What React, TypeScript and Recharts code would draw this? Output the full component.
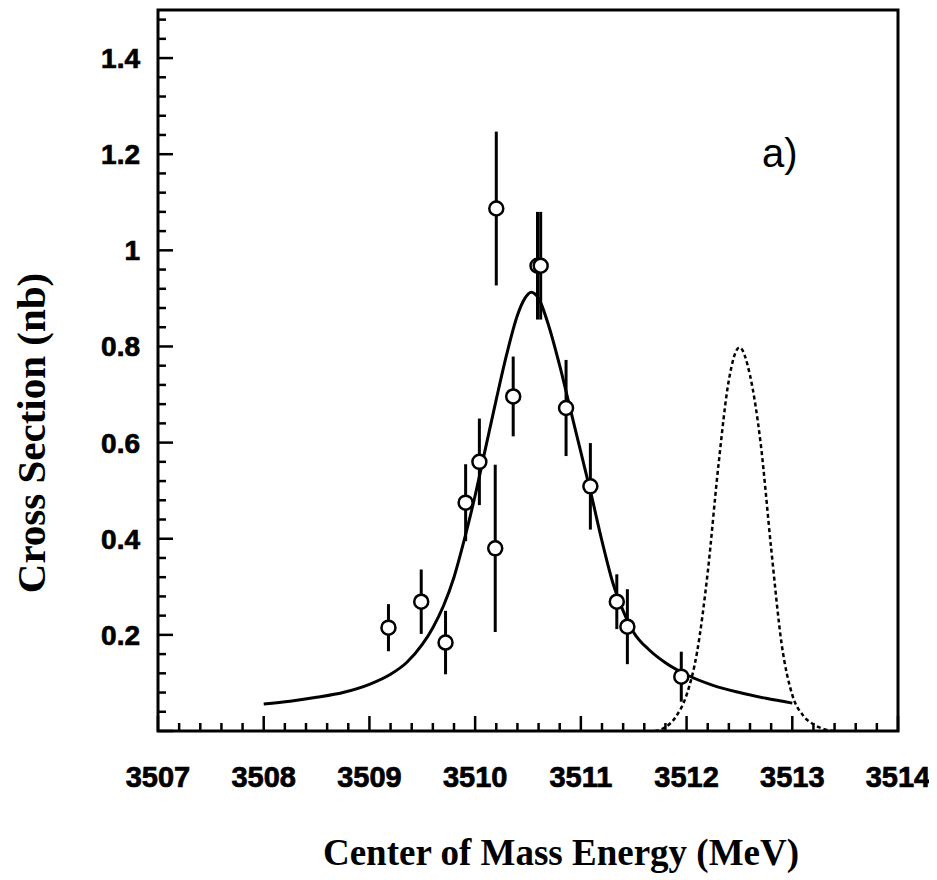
import React from 'react';
import {
  ComposedChart,
  Line,
  Scatter,
  ErrorBar,
  XAxis,
  YAxis,
  ReferenceArea,
} from 'recharts';

// measured points: energy (MeV), cross section (nb), error (nb)
const pointEnergy = [3509.18, 3509.49, 3509.72, 3509.91, 3510.04, 3510.19, 3510.2, 3510.36, 3510.59, 3510.62, 3510.86, 3511.09, 3511.34, 3511.44, 3511.95];
const pointSigma = [0.215, 0.269, 0.184, 0.475, 0.56, 0.38, 1.087, 0.696, 0.968, 0.968, 0.672, 0.509, 0.269, 0.217, 0.113];
const pointErr = [0.049, 0.067, 0.066, 0.08, 0.09, 0.174, 0.16, 0.083, 0.112, 0.112, 0.1, 0.09, 0.057, 0.078, 0.052];

// fitted curve (solid)
const fitEnergy = [3508, 3508.25, 3508.5, 3508.75, 3509, 3509.2, 3509.35, 3509.5, 3509.6, 3509.7, 3509.8, 3509.9, 3510, 3510.1, 3510.2, 3510.3, 3510.4, 3510.47, 3510.53, 3510.6, 3510.7, 3510.8, 3510.9, 3511, 3511.1, 3511.2, 3511.3, 3511.4, 3511.5, 3511.65, 3511.8, 3512, 3512.25, 3512.5, 3512.75, 3513];
const fitSigma = [0.056, 0.062, 0.07, 0.08, 0.097, 0.118, 0.142, 0.18, 0.215, 0.26, 0.32, 0.4, 0.49, 0.59, 0.69, 0.785, 0.865, 0.9, 0.913, 0.9, 0.84, 0.76, 0.67, 0.58, 0.49, 0.395, 0.31, 0.25, 0.205, 0.168, 0.142, 0.117, 0.095, 0.08, 0.068, 0.058];

// beam profile (dashed)
const beamEnergy = [3511.7, 3511.8, 3511.9, 3512, 3512.1, 3512.2, 3512.3, 3512.4, 3512.5, 3512.6, 3512.7, 3512.8, 3512.9, 3513, 3513.1, 3513.2, 3513.3, 3513.4];
const beamSigma = [0, 0.008, 0.03, 0.075, 0.165, 0.33, 0.55, 0.73, 0.798, 0.74, 0.6, 0.38, 0.18, 0.075, 0.033, 0.014, 0.004, 0];

const xMajor = [3507, 3508, 3509, 3510, 3511, 3512, 3513, 3514];
const yMajor = [0, 0.2, 0.4, 0.6, 0.8, 1, 1.2, 1.4];

// minor ticks: 5 per major interval
const xTicks: number[] = [];
for (let i = 0; i < xMajor.length - 1; i++) {
  for (let k = 0; k < 5; k++) xTicks.push(Math.round((xMajor[i] + k * 0.2) * 10) / 10);
}
xTicks.push(3514);
const yTicks: number[] = [];
for (let i = 0; i < yMajor.length; i++) {
  for (let k = 0; k < 5; k++) yTicks.push(Math.round((yMajor[i] + k * 0.04) * 100) / 100);
}

const points = pointEnergy.map((e, i) => ({ e, v: pointSigma[i], err: pointErr[i] }));
const fit = fitEnergy.map((e, i) => ({ e, v: fitSigma[i] }));
const beam = beamEnergy.map((e, i) => ({ e, v: beamSigma[i] }));

const sans = '"Liberation Sans", Arial, Helvetica, sans-serif';
const serif = '"Liberation Serif", "Times New Roman", Times, serif';

const XTick = (props: any) => {
  const { x, y, payload } = props;
  const v = payload.value;
  const major = xMajor.includes(v);
  return (
    <g>
      <line x1={x} x2={x} y1={y} y2={y - (major ? 15 : 8)} stroke="#000" strokeWidth={2.5} />
      {major && (
        <text x={x} y={y + 56} textAnchor="middle" fontFamily={sans} fontWeight="bold" fontSize={29} fill="#000" stroke="#000" strokeWidth={0.7}>
          {v}
        </text>
      )}
    </g>
  );
};

const YTick = (props: any) => {
  const { x, y, payload } = props;
  const v = payload.value;
  const major = yMajor.includes(v);
  return (
    <g>
      <line x1={x} x2={x + (major ? 15 : 8)} y1={y} y2={y} stroke="#000" strokeWidth={2.5} />
      {major && v > 0 && (
        <text x={x - 18} y={y + 10} textAnchor="end" fontFamily={sans} fontWeight="bold" fontSize={28} fill="#000" stroke="#000" strokeWidth={0.7}>
          {String(v)}
        </text>
      )}
    </g>
  );
};

const Circle = (p: any) => (
  <circle cx={p.cx} cy={p.cy} r={7} fill="#fff" stroke="#000" strokeWidth={2.5} />
);

export default function App() {
  return (
    <div style={{ position: 'relative', width: 929, height: 872 }}>
      <ComposedChart width={929} height={872} margin={{ top: 2, right: 39, left: 0, bottom: 0 }}>
        <XAxis
          dataKey="e"
          type="number"
          domain={[3507, 3514]}
          ticks={xTicks}
          interval={0}
          height={149}
          axisLine={false}
          tickLine={false}
          tickSize={0}
          tickMargin={0}
          tick={<XTick />}
          allowDataOverflow
        />
        <YAxis
          dataKey="v"
          type="number"
          domain={[0, 1.5]}
          ticks={yTicks}
          interval={0}
          width={150}
          axisLine={false}
          tickLine={false}
          tickSize={0}
          tickMargin={0}
          tick={<YTick />}
          allowDataOverflow
        />
        <ReferenceArea x1={3507} x2={3514} y1={0} y2={1.5} fill="none" fillOpacity={0} stroke="#000" strokeWidth={3} />
        <Line data={beam} dataKey="v" type="monotone" stroke="#000" strokeWidth={2.5} strokeDasharray="4 3" dot={false} isAnimationActive={false} />
        <Line data={fit} dataKey="v" type="monotone" stroke="#000" strokeWidth={3} dot={false} isAnimationActive={false} />
        <Scatter data={points} dataKey="v" shape={<Circle />} isAnimationActive={false}>
          <ErrorBar dataKey="err" direction="y" width={0} stroke="#000" strokeWidth={3} />
        </Scatter>
      </ComposedChart>
      <svg width={929} height={872} style={{ position: 'absolute', left: 0, top: 0, pointerEvents: 'none' }}>
        <text x={754} y={159} fontFamily={sans} fontSize={40} fill="#000">a)</text>
        <text x={553} y={857} textAnchor="middle" fontFamily={serif} fontWeight="bold" fontSize={37} fill="#000">
          Center of Mass Energy (MeV)
        </text>
        <text x={37} y={425} transform="rotate(-90 37 425)" textAnchor="middle" fontFamily={serif} fontWeight="bold" fontSize={41} fill="#000">
          Cross Section (nb)
        </text>
      </svg>
    </div>
  );
}
